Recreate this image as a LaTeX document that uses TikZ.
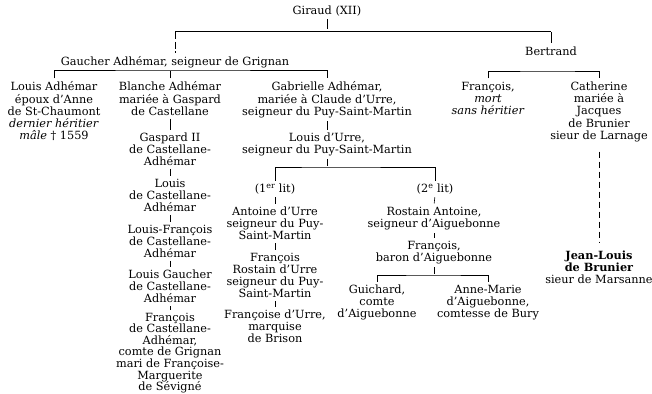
\documentclass[tikz,border=0pt]{standalone}
\usepackage{fontspec}
\setmainfont{DejaVu Serif}
\usepackage{tikz}
\tikzset{person/.style={align=center,anchor=north,inner sep=1.5pt,font=\fontsize{11.3}{12.3}\selectfont},
lien/.style={line width=0.6pt,shorten <=1.5pt,shorten >=1.5pt}}

\begin{document}
\begin{tikzpicture}[x=1pt,y=-1pt]
\useasboundingbox (0,0) rectangle (652,393);
\node[person] (giraud) at (327,4) {Giraud (XII)};
\node[person] (gaucher) at (175,55) {Gaucher Adhémar, seigneur de Grignan};
\node[person] (bertrand) at (551,45) {Bertrand};
\node[person] (louisA) at (54,80) {Louis Adhémar\\époux d'Anne\\de St-Chaumont\\\textit{dernier héritier}\\\textit{mâle} † 1559};
\node[person] (blanche) at (170,80) {Blanche Adhémar\\mariée à Gaspard\\de Castellane};
\node[person] (gabrielle) at (327,80) {Gabrielle Adhémar,\\mariée à Claude d'Urre,\\seigneur du Puy-Saint-Martin};
\node[person] (francoisB) at (488,80) {François,\\\textit{mort}\\\textit{sans héritier}};
\node[person] (catherine) at (599,80) {Catherine\\mariée à\\Jacques\\de Brunier\\sieur de Larnage};
\node[person] (gaspard) at (170,131) {Gaspard II\\de Castellane-\\Adhémar};
\node[person] (louisC) at (170,177) {Louis\\de Castellane-\\Adhémar};
\node[person] (louisF) at (170,223) {Louis-François\\de Castellane-\\Adhémar};
\node[person] (louisG) at (170,268) {Louis Gaucher\\de Castellane-\\Adhémar};
\node[person,font=\fontsize{11.3}{11.6}\selectfont] (francoisC) at (170,311) {François\\de Castellane-\\Adhémar,\\comte de Grignan\\mari de Françoise-\\Marguerite\\de Sévigné};
\node[person] (louisU) at (327,131) {Louis d'Urre,\\seigneur du Puy-Saint-Martin};
\node[person] (lit1) at (275,182) {(1\textsuperscript{er} lit)};
\node[person] (lit2) at (435,182) {(2\textsuperscript{e} lit)};
\node[person] (antoine) at (275,205) {Antoine d'Urre\\seigneur du Puy-\\Saint-Martin};
\node[person] (francoisR) at (275,251) {François\\Rostain d'Urre\\seigneur du Puy-\\Saint-Martin};
\node[person] (francoise) at (275,308) {Françoise d'Urre,\\marquise\\de Brison};
\node[person] (rostain) at (434,205) {Rostain Antoine,\\seigneur d'Aiguebonne};
\node[person] (baron) at (434,239) {François,\\baron d'Aiguebonne};
\node[person] (guichard) at (377,283) {Guichard,\\comte\\d'Aiguebonne};
\node[person] (annemarie) at (488,283) {Anne-Marie\\d'Aiguebonne,\\comtesse de Bury};
\node[person] (jeanlouis) at (599,249) {\textbf{Jean-Louis}\\\textbf{de Brunier}\\sieur de Marsanne};
\coordinate (b0) at (327,31);
\coordinate (b1) at (175,70);
\coordinate (b2) at (551,71);
\coordinate (b3) at (327,167);
\coordinate (b4) at (434,275);
\draw[lien] (giraud.south) -- (b0);
\draw[line width=0.6pt] (gaucher.north |- b0) -- (bertrand.north |- b0);
\draw[lien] (bertrand.north |- b0) -- (bertrand.north);
\draw[lien,dash pattern=on 7pt off 2.5pt] (gaucher.north |- b0) -- (gaucher.north);
\draw[lien] (louisA.north) |- (b1) -| (gabrielle.north);
\draw[lien] (blanche.north) -- (blanche.north |- b1);
\draw[lien] (francoisB.north) |- (b2) -| (catherine.north);
\foreach \a/\b in {blanche/gaspard,gaspard/louisC,louisC/louisF,louisF/louisG,louisG/francoisC,
  gabrielle/louisU,lit1/antoine,antoine/francoisR,francoisR/francoise,lit2/rostain,rostain/baron}
  \draw[lien] (\a.south) -- (\b.north);
\draw[lien] (louisU.south) -- (b3);
\draw[lien] (lit1.north) |- (b3) -| (lit2.north);
\draw[lien] (baron.south) -- (b4);
\draw[lien] (guichard.north) |- (b4) -| (annemarie.north);
\draw[lien,dash pattern=on 6pt off 4pt,shorten <=8pt,shorten >=6pt] (catherine.south) -- (jeanlouis.north);
\end{tikzpicture}
\end{document}
